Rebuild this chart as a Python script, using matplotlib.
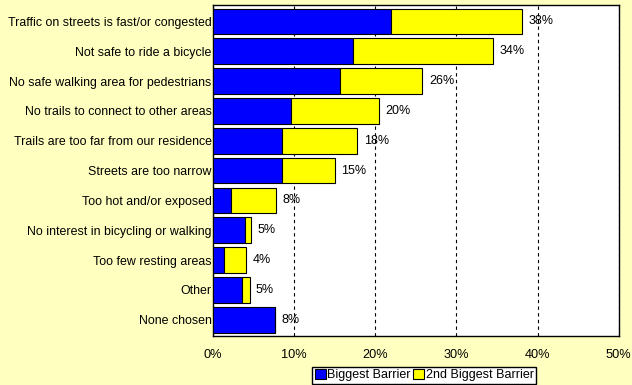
import matplotlib.pyplot as plt
from matplotlib.ticker import PercentFormatter

plt.rcParams['font.family'] = ['Liberation Sans', 'DejaVu Sans']

# Barriers, top to bottom as in the chart
categories = [
    'Traffic on streets is fast/or congested',
    'Not safe to ride a bicycle',
    'No safe walking area for pedestrians',
    'No trails to connect to other areas',
    'Trails are too far from our residence',
    'Streets are too narrow',
    'Too hot and/or exposed',
    'No interest in bicycling or walking',
    'Too few resting areas',
    'Other',
    'None chosen',
]
biggest = [21.9, 17.2, 15.6, 9.6, 8.5, 8.5, 2.2, 4.0, 1.3, 3.6, 7.7]
second = [16.2, 17.3, 10.2, 10.8, 9.3, 6.5, 5.6, 0.7, 2.8, 0.9, 0.0]
totals = [38, 34, 26, 20, 18, 15, 8, 5, 4, 5, 8]

bg = '#FFFFC0'
fig = plt.figure(figsize=(6.32, 3.85), dpi=100, facecolor=bg)
ax = fig.add_axes([0.337, 0.127, 0.642, 0.86])

ypos = list(range(len(categories)))[::-1]
h = 0.86
b1 = ax.barh(ypos, biggest, height=h, color='#0000FF', edgecolor='black',
             linewidth=0.8, label='Biggest Barrier', zorder=3)
b2 = ax.barh(ypos, second, left=biggest, height=h, color='#FFFF00',
             edgecolor='black', linewidth=0.8, label='2nd Biggest Barrier', zorder=3)

for y, b, s, t in zip(ypos, biggest, second, totals):
    ax.text(b + s + 0.8, y, f'{t}%', va='center', ha='left', fontsize=9, zorder=4)

ax.set_xlim(0, 50)
ax.set_ylim(-0.55, len(categories) - 0.45)
ax.set_xticks([0, 10, 20, 30, 40, 50])
ax.xaxis.set_major_formatter(PercentFormatter(decimals=0))
ax.set_yticks(ypos)
ax.set_yticklabels(categories)
ax.tick_params(axis='y', length=0, pad=1, labelsize=8.9)
ax.tick_params(axis='x', length=0, pad=9, labelsize=9.2)
ax.xaxis.grid(True, linestyle=(0, (3, 3)), color='black', linewidth=0.8, zorder=1)
ax.set_facecolor('white')
for sp in ax.spines.values():
    sp.set_color('black')
    sp.set_linewidth(1)

fig.legend(handles=[b1, b2], loc='center', bbox_to_anchor=(0.671, 0.025),
           ncol=2, fontsize=9, frameon=True, fancybox=False, edgecolor='black',
           framealpha=1, handlelength=0.9, handleheight=0.8, handletextpad=0.1,
           columnspacing=0.2, borderpad=0.2, borderaxespad=0)

fig.savefig('out.png', dpi=100, facecolor=bg)
